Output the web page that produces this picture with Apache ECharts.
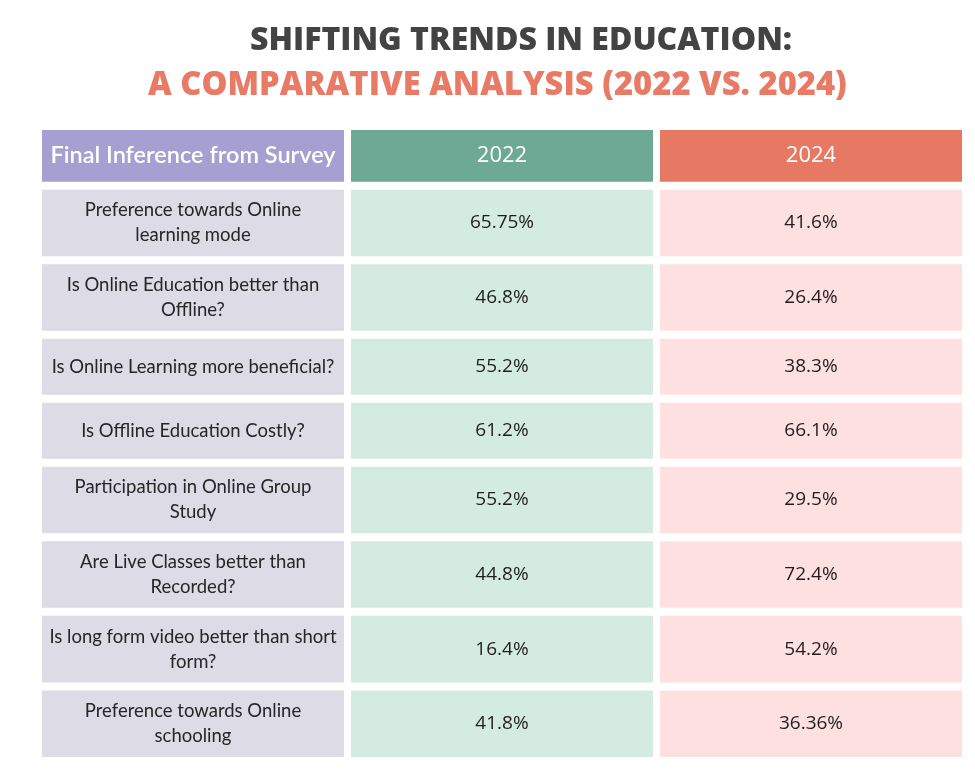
<!DOCTYPE html>
<html>
<head>
<meta charset="utf-8">
<script src="https://cdn.jsdelivr.net/npm/echarts@6/dist/echarts.min.js"></script>
<style>
  html, body { margin: 0; padding: 0; background: #ffffff; }
  #chart { width: 975px; height: 779px; }
</style>
</head>
<body>
<div id="chart"></div>
<script>
// ---- data ----
const titleLine1 = 'SHIFTING TRENDS IN EDUCATION:';
const titleLine2 = 'A COMPARATIVE ANALYSIS (2022 VS. 2024)';
const headers = ['Final Inference from Survey', '2022', '2024'];
const questions = [
  'Preference towards Online\nlearning mode',
  'Is Online Education better than\nOffline?',
  'Is Online Learning more beneficial?',
  'Is Offline Education Costly?',
  'Participation in Online Group\nStudy',
  'Are Live Classes better than\nRecorded?',
  'Is long form video better than short\nform?',
  'Preference towards Online\nschooling'
];
const values2022 = [65.75, 46.8, 55.2, 61.2, 55.2, 44.8, 16.4, 41.8];
const values2024 = [41.6, 26.4, 38.3, 66.1, 29.5, 72.4, 54.2, 36.36];

// ---- styles ----
const headerFill = ['#A59FD2', '#6DA994', '#E77864'];
const bodyFill = ['#DCDBE6', '#D3EBE0', '#FEE0E1'];
const GAP_X = 7, GAP_Y = 8;

// row heights derived from the number of text lines in each row
const HEADER_UNITS = 5.6;
function rowUnits(label) { return label.split('\n').length + 5; }

const cells = [];
let cursor = 0;
headers.forEach((h, c) => {
  cells.push({ value: [c, 0, HEADER_UNITS], text: h, kind: 'header' });
});
cursor = HEADER_UNITS;
questions.forEach((q, r) => {
  const u = rowUnits(q);
  const texts = [q, values2022[r] + '%', values2024[r] + '%'];
  texts.forEach((t, c) => {
    cells.push({ value: [c, cursor, cursor + u], text: t, kind: c === 0 ? 'question' : 'value' });
  });
  cursor += u;
});
const totalUnits = cursor;

const chart = echarts.init(document.getElementById('chart'));
chart.setOption({
  backgroundColor: '#ffffff',
  animation: false,
  title: [
    {
      text: titleLine1, left: 250, top: 25, padding: 0,
      textStyle: { fontFamily: 'Open Sans', fontWeight: 800, fontSize: 32, color: '#434343' }
    },
    {
      text: titleLine2, left: 148, top: 69, padding: 0,
      textStyle: { fontFamily: 'Open Sans', fontWeight: 800, fontSize: 32.7, color: '#E87A66' }
    }
  ],
  grid: { left: 42, right: 6, top: 130, bottom: 779 - 765 },
  xAxis: { type: 'category', data: headers, show: false },
  yAxis: { type: 'value', inverse: true, min: 0, max: totalUnits, show: false },
  series: [{
    type: 'custom',
    data: cells.map(c => c.value),
    renderItem: function (params, api) {
      const cell = cells[params.dataIndex];
      const col = api.value(0);
      const pTop = api.coord([col, api.value(1)]);
      const pBot = api.coord([col, api.value(2)]);
      const bw = api.size([1, 0])[0];
      const x = pTop[0] - bw / 2;
      const y = pTop[1];
      const w = bw - GAP_X;
      const h = pBot[1] - pTop[1] - GAP_Y;
      let fill, textFill, font, lineHeight = 25;
      if (cell.kind === 'header') {
        fill = headerFill[col];
        textFill = '#ffffff';
        font = col === 0 ? '600 23.5px Lato' : '400 22px "Open Sans"';
      } else if (cell.kind === 'question') {
        fill = bodyFill[col];
        textFill = '#262626';
        font = '400 18.5px Lato';
      } else {
        fill = bodyFill[col];
        textFill = '#1e1e1e';
        font = '400 19px "Open Sans"';
      }
      return {
        type: 'group',
        children: [
          { type: 'rect', shape: { x: x, y: y, width: w, height: h }, style: { fill: fill } },
          {
            type: 'text', x: x + w / 2, y: y + h / 2,
            style: { text: cell.text, fill: textFill, font: font, align: 'center', verticalAlign: 'middle', lineHeight: lineHeight }
          }
        ]
      };
    }
  }]
});
</script>
</body>
</html>
